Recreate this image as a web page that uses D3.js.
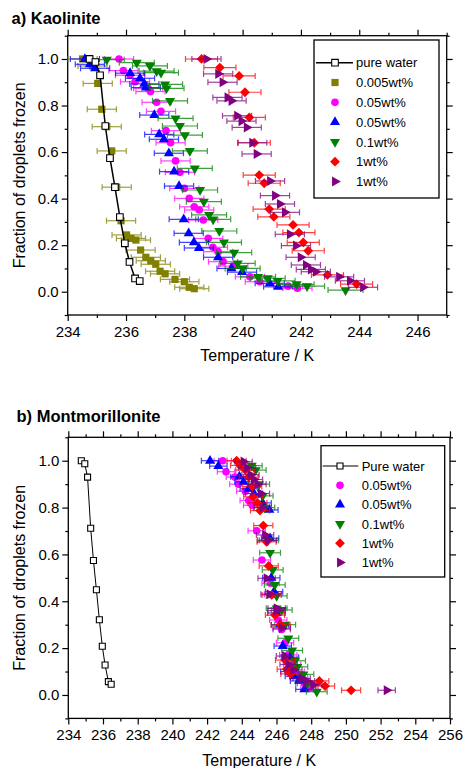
<!DOCTYPE html>
<html>
<head>
<meta charset="utf-8">
<script src="https://cdn.jsdelivr.net/npm/d3@7"></script>
<style>
  body { margin: 0; background: #fff; }
  svg { display: block; }
  text { font-family: "Liberation Sans", Arial, Helvetica, sans-serif; fill: #000; }
</style>
</head>
<body>
<svg id="chart" width="463" height="768"></svg>
<script>
// ---------- data: temperature (K) and fraction of droplets frozen ----------
// pure water reference (same run shown in both panels)
const waterT = [234.75, 234.95, 235.11, 235.29, 235.45, 235.62, 235.79, 235.96, 236.12, 236.31, 236.47];
const waterF = [1.0, 0.987, 0.930, 0.712, 0.574, 0.449, 0.321, 0.208, 0.128, 0.057, 0.046];

// a) Kaolinite
const kaoOliveT = [234.51, 234.85, 235.03, 235.17, 235.34, 235.51, 235.68, 235.83, 236.02, 236.17, 236.34, 236.50, 236.68, 236.85, 237.02, 237.17, 237.34, 237.68, 238.00, 238.17, 238.34];
const kaoOliveF = [1.0, 0.97, 0.895, 0.784, 0.709, 0.605, 0.449, 0.305, 0.244, 0.229, 0.222, 0.179, 0.148, 0.133, 0.118, 0.088, 0.077, 0.053, 0.043, 0.019, 0.013];

const kaoMagentaT = [235.76, 235.91, 236.14, 236.31, 236.76, 236.84, 237.05, 237.20, 237.37, 237.53, 237.70, 237.85, 238.00, 238.17, 238.34, 238.51, 238.65, 238.82, 238.98, 239.16, 239.33, 239.68, 240.25, 240.59, 241.56, 241.88];
const kaoMagentaF = [1.0, 0.950, 0.930, 0.902, 0.874, 0.860, 0.814, 0.775, 0.692, 0.640, 0.562, 0.513, 0.444, 0.401, 0.365, 0.351, 0.308, 0.229, 0.191, 0.172, 0.129, 0.110, 0.064, 0.043, 0.024, 0.015];

const kaoBlueT = [234.59, 234.76, 234.94, 236.14, 236.48, 236.63, 236.68, 236.97, 237.14, 237.30, 237.47, 237.65, 237.82, 237.98, 238.15, 238.33, 238.50, 239.16, 239.62, 239.98, 240.93, 241.22];
const kaoBlueF = [1.0, 0.977, 0.960, 0.939, 0.917, 0.893, 0.877, 0.759, 0.676, 0.655, 0.595, 0.516, 0.454, 0.311, 0.251, 0.212, 0.188, 0.148, 0.100, 0.084, 0.036, 0.021];

const kaoGreenT = [235.34, 236.37, 236.82, 237.05, 237.20, 237.34, 237.39, 237.51, 237.70, 237.85, 238.02, 238.19, 238.36, 238.54, 238.67, 238.85, 238.99, 239.20, 239.36, 239.71, 239.83, 240.00, 240.53, 240.86, 241.20, 241.85, 242.21, 243.53];
const kaoGreenF = [0.997, 0.984, 0.970, 0.948, 0.941, 0.891, 0.874, 0.820, 0.745, 0.712, 0.673, 0.605, 0.530, 0.437, 0.387, 0.330, 0.311, 0.261, 0.212, 0.168, 0.122, 0.100, 0.064, 0.058, 0.047, 0.032, 0.024, 0.007];

const kaoRedT = [238.59, 239.22, 239.88, 240.08, 240.23, 240.40, 240.57, 240.74, 240.91, 241.07, 241.73, 241.93, 242.08, 242.25, 242.91, 243.91];
const kaoRedF = [1.0, 0.963, 0.927, 0.857, 0.749, 0.640, 0.501, 0.466, 0.355, 0.322, 0.287, 0.254, 0.212, 0.176, 0.072, 0.033];

const kaoPurpleT = [238.76, 239.16, 239.31, 239.48, 239.62, 239.81, 239.96, 240.14, 240.33, 240.48, 240.94, 241.11, 241.28, 241.45, 241.62, 241.83, 241.99, 242.17, 242.34, 242.51, 243.31, 243.68, 244.13];
const kaoPurpleF = [1.0, 0.936, 0.900, 0.835, 0.820, 0.756, 0.733, 0.706, 0.640, 0.592, 0.476, 0.413, 0.377, 0.341, 0.247, 0.198, 0.148, 0.115, 0.096, 0.086, 0.064, 0.047, 0.019];

// b) Montmorillonite
const monMagentaT = [242.90, 243.09, 243.60, 243.80, 244.20, 244.40, 244.60, 244.86, 245.16, 245.66, 245.80, 246.10, 246.30, 246.49, 246.68, 246.90, 247.10, 247.30, 247.60, 247.90];
const monMagentaF = [1.0, 0.953, 0.930, 0.900, 0.870, 0.830, 0.810, 0.701, 0.576, 0.477, 0.430, 0.320, 0.280, 0.223, 0.171, 0.130, 0.100, 0.075, 0.050, 0.030];

const monBlueT = [242.17, 242.65, 243.86, 244.10, 244.40, 244.70, 245.20, 245.59, 245.63, 245.70, 245.86, 246.00, 246.20, 246.36, 246.78, 246.74, 247.00, 247.30, 247.61];
const monBlueF = [1.0, 0.977, 0.932, 0.910, 0.880, 0.860, 0.820, 0.790, 0.669, 0.500, 0.441, 0.350, 0.300, 0.209, 0.161, 0.100, 0.080, 0.060, 0.024];

const monGreenT = [244.57, 244.80, 245.00, 245.20, 245.30, 245.50, 245.63, 245.78, 245.90, 246.01, 246.01, 246.30, 246.50, 246.68, 246.90, 247.07, 247.20, 247.55, 247.80, 248.32];
const monGreenF = [0.979, 0.960, 0.900, 0.850, 0.800, 0.660, 0.607, 0.534, 0.470, 0.423, 0.370, 0.363, 0.300, 0.242, 0.190, 0.146, 0.120, 0.088, 0.050, 0.014];

const monRedT = [243.70, 243.90, 244.20, 244.40, 244.60, 244.66, 244.90, 245.05, 245.24, 245.43, 245.55, 245.72, 245.91, 246.24, 246.49, 246.59, 246.80, 248.47, 248.80, 250.30];
const monRedF = [1.0, 0.980, 0.960, 0.930, 0.890, 0.846, 0.820, 0.787, 0.723, 0.654, 0.551, 0.427, 0.341, 0.299, 0.149, 0.110, 0.090, 0.060, 0.038, 0.020];

const monPurpleT = [244.10, 244.30, 244.50, 244.70, 244.90, 245.10, 245.20, 245.34, 245.50, 245.43, 245.60, 246.01, 246.00, 246.30, 246.49, 246.70, 246.97, 247.45, 247.70, 248.12, 252.35];
const monPurpleF = [0.996, 0.970, 0.940, 0.920, 0.900, 0.860, 0.800, 0.683, 0.660, 0.498, 0.430, 0.370, 0.360, 0.285, 0.166, 0.130, 0.107, 0.071, 0.060, 0.043, 0.020];

// temperature uncertainty (K) for each suspension
const errOlive = 0.5, errMagenta = 0.5, errBlue = 0.5, errGreen = 0.6, errRed = 0.55, errPurple = 0.5;

const kaoLabels = ["pure water", "0.005wt%", "0.05wt%", "0.05wt%", "0.1wt%", "1wt%", "1wt%"];
const monLabels = ["Pure water", "0.05wt%", "0.05wt%", "0.1wt%", "1wt%", "1wt%"];

const yTicks = [0.0, 0.2, 0.4, 0.6, 0.8, 1.0];

// ---------- marker styles ----------
const styles = {
  olive:   { color: "#808000", shape: d3.symbolSquare,   size: 52, rot: 0 },
  magenta: { color: "#ff00ff", shape: d3.symbolCircle,   size: 46, rot: 0 },
  blue:    { color: "#0000ff", shape: d3.symbolTriangle, size: 44, rot: 0 },
  green:   { color: "#008000", shape: d3.symbolTriangle, size: 44, rot: 180 },
  red:     { color: "#ff0000", shape: d3.symbolSquare,   size: 48, rot: 45 },
  purple:  { color: "#800080", shape: d3.symbolTriangle, size: 44, rot: 90 }
};

function zip(T, F) { return T.map((t, i) => ({ t, f: F[i] })); }

const kaoSeries = [
  { style: "olive",   data: zip(kaoOliveT, kaoOliveF),     err: errOlive },
  { style: "magenta", data: zip(kaoMagentaT, kaoMagentaF), err: errMagenta },
  { style: "blue",    data: zip(kaoBlueT, kaoBlueF),       err: errBlue },
  { style: "green",   data: zip(kaoGreenT, kaoGreenF),     err: errGreen },
  { style: "red",     data: zip(kaoRedT, kaoRedF),         err: errRed },
  { style: "purple",  data: zip(kaoPurpleT, kaoPurpleF),   err: errPurple }
];
const monSeries = [
  { style: "magenta", data: zip(monMagentaT, monMagentaF), err: errMagenta },
  { style: "blue",    data: zip(monBlueT, monBlueF),       err: errBlue },
  { style: "green",   data: zip(monGreenT, monGreenF),     err: errGreen },
  { style: "red",     data: zip(monRedT, monRedF),         err: errRed },
  { style: "purple",  data: zip(monPurpleT, monPurpleF),   err: errPurple }
];
const water = zip(waterT, waterF);

const svg = d3.select("#chart");

function range(a, b, step) { const out = []; for (let v = a; v <= b + 1e-9; v += step) out.push(+v.toFixed(6)); return out; }

function drawPanel(cfg) {
  const g = svg.append("g");
  const x = d3.scaleLinear().domain(cfg.xDomain).range([cfg.left, cfg.right]);
  const y = d3.scaleLinear().domain([-0.1, 1.1]).range([cfg.bottom, cfg.top]);

  const xMajor = range(cfg.xDomain[0], cfg.xDomain[1], 2).filter(v => (v - cfg.xDomain[0]) % 2 === 0);
  const xMinor = range(cfg.xDomain[0], cfg.xDomain[1], 1).filter(v => !xMajor.includes(v));
  const yMinor = range(-0.1, 1.1, 0.2).map(v => +v.toFixed(1));

  const styleAxis = sel => {
    sel.select(".domain").remove();
    sel.selectAll("line").attr("stroke", "#000").attr("stroke-width", 1.2);
    sel.selectAll("text").style("font-size", "15px").attr("fill", "#000")
       .style("font-family", '"Liberation Sans", Arial, sans-serif');
  };

  // bottom
  g.append("g").attr("transform", `translate(0,${cfg.bottom})`)
    .call(d3.axisBottom(x).tickValues(xMajor).tickSize(6).tickPadding(5).tickFormat(d3.format("d"))).call(styleAxis);
  g.append("g").attr("transform", `translate(0,${cfg.bottom})`)
    .call(d3.axisBottom(x).tickValues(xMinor).tickSize(3).tickFormat("")).call(styleAxis);
  // top
  g.append("g").attr("transform", `translate(0,${cfg.top})`)
    .call(d3.axisTop(x).tickValues(xMajor).tickSize(6).tickFormat("")).call(styleAxis);
  g.append("g").attr("transform", `translate(0,${cfg.top})`)
    .call(d3.axisTop(x).tickValues(xMinor).tickSize(3).tickFormat("")).call(styleAxis);
  // left
  g.append("g").attr("transform", `translate(${cfg.left},0)`)
    .call(d3.axisLeft(y).tickValues(yTicks).tickSize(6).tickPadding(3).tickFormat(d3.format(".1f"))).call(styleAxis);
  g.append("g").attr("transform", `translate(${cfg.left},0)`)
    .call(d3.axisLeft(y).tickValues(yMinor).tickSize(3).tickFormat("")).call(styleAxis);
  // right
  g.append("g").attr("transform", `translate(${cfg.right},0)`)
    .call(d3.axisRight(y).tickValues(yTicks).tickSize(6).tickFormat("")).call(styleAxis);
  g.append("g").attr("transform", `translate(${cfg.right},0)`)
    .call(d3.axisRight(y).tickValues(yMinor).tickSize(3).tickFormat("")).call(styleAxis);

  // frame
  g.append("rect").attr("x", cfg.left).attr("y", cfg.top)
    .attr("width", cfg.right - cfg.left).attr("height", cfg.bottom - cfg.top)
    .attr("fill", "none").attr("stroke", "#000").attr("stroke-width", 1.3);

  // series: error bars then markers
  cfg.series.forEach(s => {
    const st = styles[s.style];
    const sg = g.append("g");
    const eb = sg.append("g").attr("stroke", st.color).attr("stroke-width", 1.2).attr("opacity", 0.75);
    s.data.forEach(d => {
      const x1 = x(d.t - s.err), x2 = x(d.t + s.err), yy = y(d.f);
      eb.append("line").attr("x1", x1).attr("x2", x2).attr("y1", yy).attr("y2", yy);
      eb.append("line").attr("x1", x1).attr("x2", x1).attr("y1", yy - 3).attr("y2", yy + 3);
      eb.append("line").attr("x1", x2).attr("x2", x2).attr("y1", yy - 3).attr("y2", yy + 3);
    });
    sg.selectAll("path.m").data(s.data).join("path").attr("class", "m")
      .attr("d", d3.symbol(st.shape, st.size))
      .attr("transform", d => `translate(${x(d.t)},${y(d.f)}) rotate(${st.rot})`)
      .attr("fill", st.color);
  });

  // pure water line and open squares
  g.append("path").datum(water)
    .attr("d", d3.line().x(d => x(d.t)).y(d => y(d.f)))
    .attr("fill", "none").attr("stroke", "#000").attr("stroke-width", cfg.waterLine);
  g.selectAll("path.w").data(water).join("path").attr("class", "w")
    .attr("d", d3.symbol(d3.symbolSquare, cfg.waterSize))
    .attr("transform", d => `translate(${x(d.t)},${y(d.f)})`)
    .attr("fill", "#fff").attr("stroke", "#000").attr("stroke-width", 1.1);

  // titles
  svg.append("text").attr("x", cfg.titleX).attr("y", cfg.titleY)
    .style("font-size", "16.5px").style("font-weight", "bold").text(cfg.title);
  svg.append("text").attr("x", (cfg.left + cfg.right) / 2).attr("y", cfg.xTitleY)
    .attr("text-anchor", "middle").style("font-size", "16px").text("Temperature / K");
  svg.append("text")
    .attr("transform", `translate(25,${(cfg.top + cfg.bottom) / 2}) rotate(-90)`)
    .attr("text-anchor", "middle").style("font-size", "16px").text("Fraction of droplets frozen");

  // legend
  const L = cfg.legend;
  const lg = svg.append("g");
  lg.append("rect").attr("x", L.x).attr("y", L.y).attr("width", L.w).attr("height", L.h)
    .attr("fill", "#fff").attr("stroke", "#000").attr("stroke-width", 1.3);
  const rowY = i => L.firstY + i * L.step;
  lg.append("line").attr("x1", L.lineX1).attr("x2", L.lineX2).attr("y1", rowY(0)).attr("y2", rowY(0))
    .attr("stroke", "#000").attr("stroke-width", cfg.waterLine);
  lg.append("path").attr("d", d3.symbol(d3.symbolSquare, cfg.waterSize))
    .attr("transform", `translate(${L.symX},${rowY(0)})`)
    .attr("fill", "#fff").attr("stroke", "#000").attr("stroke-width", 1.1);
  cfg.labels.forEach((lab, i) => {
    if (i > 0) {
      const st = styles[cfg.series[i - 1].style];
      lg.append("path").attr("d", d3.symbol(st.shape, st.size))
        .attr("transform", `translate(${L.symX},${rowY(i)}) rotate(${st.rot})`)
        .attr("fill", st.color);
    }
    lg.append("text").attr("x", L.textX).attr("y", rowY(i)).attr("dy", "0.36em")
      .style("font-size", "13px").text(lab);
  });
}

drawPanel({
  xDomain: [234, 247], left: 67.7, right: 446.7, top: 35.7, bottom: 315,
  series: kaoSeries, labels: kaoLabels, waterSize: 44, waterLine: 1.5,
  title: "a) Kaolinite", titleX: 11.5, titleY: 24, xTitleY: 361,
  legend: { x: 314, y: 40, w: 125, h: 158, firstY: 62.7, step: 19.8,
            lineX1: 316, lineX2: 353, symX: 335, textX: 356 }
});

drawPanel({
  xDomain: [234, 256], left: 68.3, right: 450, top: 437.3, bottom: 718.4,
  series: monSeries, labels: monLabels, waterSize: 36, waterLine: 1,
  title: "b) Montmorillonite", titleX: 16.5, titleY: 421.5, xTitleY: 766,
  legend: { x: 321, y: 445.7, w: 123.7, h: 131.3, firstY: 466, step: 19.3,
            lineX1: 322.7, lineX2: 358.3, symX: 340, textX: 361.7 }
});
</script>
</body>
</html>
